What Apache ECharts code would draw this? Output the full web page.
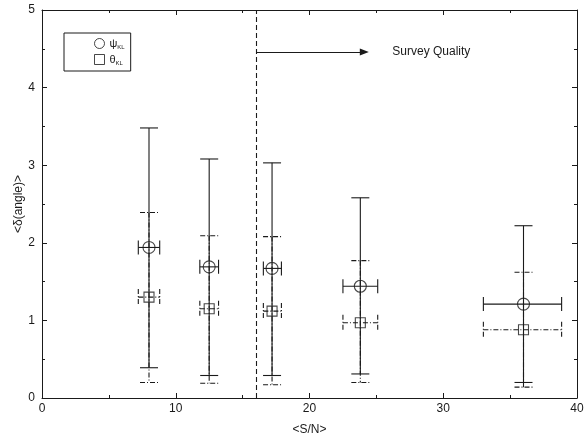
<!DOCTYPE html>
<html>
<head>
<meta charset="utf-8">
<script src="https://cdn.jsdelivr.net/npm/echarts@6/dist/echarts.min.js"></script>
<style>
  html, body { margin: 0; padding: 0; background: #fff; }
  #chart { width: 587px; height: 437px; }
</style>
</head>
<body>
<div id="chart"></div>
<script>
// <S/N> per bin, with its horizontal extent
const snr = [8.0, 12.5, 17.2, 23.8, 36.0];
const snrLo = [7.2, 11.8, 16.55, 22.5, 33.0];
const snrHi = [8.8, 13.2, 17.9, 25.1, 38.85];

// psi_KL (circles, solid error bars)
const psi = [1.94, 1.69, 1.67, 1.44, 1.21];
const psiLo = [0.39, 0.29, 0.29, 0.31, 0.2];
const psiHi = [3.48, 3.08, 3.03, 2.58, 2.22];

// theta_KL (squares, dash-dot error bars)
const theta = [1.3, 1.15, 1.12, 0.97, 0.88];
const thetaLo = [0.2, 0.19, 0.17, 0.2, 0.14];
const thetaHi = [2.39, 2.09, 2.08, 1.77, 1.62];

const cutSnr = 16;
const arrowY = 4.46;
const arrowEnd = 24.1;

const INK = "#1a1a1a";
const FONT = "Liberation Sans";

function rows(ys, lo, hi) {
  return snr.map((x, i) => [x, ys[i], snrLo[i], snrHi[i], lo[i], hi[i]]);
}

function errorBars(dash, capW, capH) {
  return function (params, api) {
    const x = api.value(0), y = api.value(1);
    const c = api.coord([x, y]);
    const top = api.coord([x, api.value(5)]);
    const bot = api.coord([x, api.value(4)]);
    const left = api.coord([api.value(2), y]);
    const right = api.coord([api.value(3), y]);
    const style = { stroke: INK, lineWidth: 1.1, lineDash: dash, fill: null };
    const seg = (x1, y1, x2, y2) => ({ type: "line", shape: { x1, y1, x2, y2 }, style });
    return {
      type: "group",
      children: [
        seg(c[0], top[1], c[0], bot[1]),
        seg(c[0] - capW, top[1], c[0] + capW, top[1]),
        seg(c[0] - capW, bot[1], c[0] + capW, bot[1]),
        seg(left[0], c[1], right[0], c[1]),
        seg(left[0], c[1] - capH, left[0], c[1] + capH),
        seg(right[0], c[1] - capH, right[0], c[1] + capH),
      ],
    };
  };
}

function frameAxis() {
  return {
    axisLine: { onZero: false, lineStyle: { color: INK, width: 1 } },
    axisTick: { inside: true, length: 5, lineStyle: { color: INK } },
    minorTick: { show: true, splitNumber: 2, length: 3, lineStyle: { color: INK } },
    splitLine: { show: false },
    minorSplitLine: { show: false },
  };
}

const chart = echarts.init(document.getElementById("chart"));
chart.setOption({
  animation: false,
  backgroundColor: "#fff",
  textStyle: { fontFamily: FONT },
  grid: { left: 42, right: 10, top: 10, bottom: 39, outerBoundsMode: "none" },
  legend: {
    left: 64,
    top: 33,
    orient: "vertical",
    borderColor: INK,
    borderWidth: 1,
    borderRadius: 0,
    padding: [5, 6, 5, 30],
    itemGap: 4,
    itemWidth: 10,
    itemHeight: 10,
    data: [
      { name: "psi", icon: "circle", itemStyle: { color: "rgba(0,0,0,0)", borderColor: INK, borderWidth: 1 } },
      { name: "theta", icon: "rect", itemStyle: { color: "rgba(0,0,0,0)", borderColor: INK, borderWidth: 1 } },
    ],
    formatter: (name) => (name === "psi" ? "{a|ψ}{b|KL}" : "{a|θ}{b|KL}"),
    textStyle: {
      color: INK,
      rich: {
        a: { fontSize: 11, fontFamily: FONT, color: INK },
        b: { fontSize: 6, fontFamily: FONT, color: INK, padding: [7, 0, 0, 0] },
      },
    },
  },
  xAxis: [
    Object.assign(frameAxis(), {
      type: "value",
      min: 0,
      max: 40,
      interval: 10,
      name: "<S/N>",
      nameLocation: "middle",
      nameGap: 26,
      nameMoveOverlap: false,
      nameTextStyle: { fontSize: 12, color: INK, fontFamily: FONT },
      axisLabel: { fontSize: 12, color: INK, margin: 5, fontFamily: FONT },
    }),
    Object.assign(frameAxis(), {
      type: "value",
      position: "top",
      min: 0,
      max: 40,
      interval: 10,
      axisLabel: { show: false },
    }),
  ],
  yAxis: [
    Object.assign(frameAxis(), {
      type: "value",
      min: 0,
      max: 5,
      interval: 1,
      name: "<δ(angle)>",
      nameLocation: "middle",
      nameRotate: 90,
      nameGap: 17,
      nameMoveOverlap: false,
      nameTextStyle: { fontSize: 12, color: INK, fontFamily: FONT },
      axisLabel: { fontSize: 12, color: INK, margin: 7, fontFamily: FONT },
    }),
    Object.assign(frameAxis(), {
      type: "value",
      position: "right",
      min: 0,
      max: 5,
      interval: 1,
      axisLabel: { show: false },
    }),
  ],
  series: [
    {
      name: "psiBars",
      type: "custom",
      renderItem: errorBars(null, 9, 7),
      data: rows(psi, psiLo, psiHi),
      z: 2,
      markLine: {
        silent: true,
        animation: false,
        symbol: ["none", "none"],
        lineStyle: { color: INK, type: [5, 3], width: 1.1 },
        label: { show: false },
        data: [[{ coord: [cutSnr, 0] }, { coord: [cutSnr, 5] }]],
      },
    },
    {
      name: "thetaBars",
      type: "custom",
      renderItem: errorBars([5, 2, 1, 2], 9, 8),
      data: rows(theta, thetaLo, thetaHi),
      z: 2,
      markLine: {
        silent: true,
        animation: false,
        symbol: ["none", "triangle"],
        symbolSize: [7, 9],
        lineStyle: { color: INK, type: "solid", width: 1.1 },
        label: {
          show: true,
          position: "end",
          distance: 28,
          formatter: "Survey Quality",
          color: INK,
          fontSize: 12,
          fontFamily: FONT,
        },
        data: [[{ coord: [cutSnr, arrowY] }, { coord: [arrowEnd, arrowY] }]],
      },
    },
    {
      name: "psi",
      type: "scatter",
      symbol: "circle",
      symbolSize: 12,
      itemStyle: { color: "rgba(0,0,0,0)", borderColor: INK, borderWidth: 1.1 },
      data: snr.map((x, i) => [x, psi[i]]),
      z: 3,
    },
    {
      name: "theta",
      type: "scatter",
      symbol: "rect",
      symbolSize: 10,
      itemStyle: { color: "rgba(0,0,0,0)", borderColor: INK, borderWidth: 1.1 },
      data: snr.map((x, i) => [x, theta[i]]),
      z: 3,
    },
  ],
});
</script>
</body>
</html>
